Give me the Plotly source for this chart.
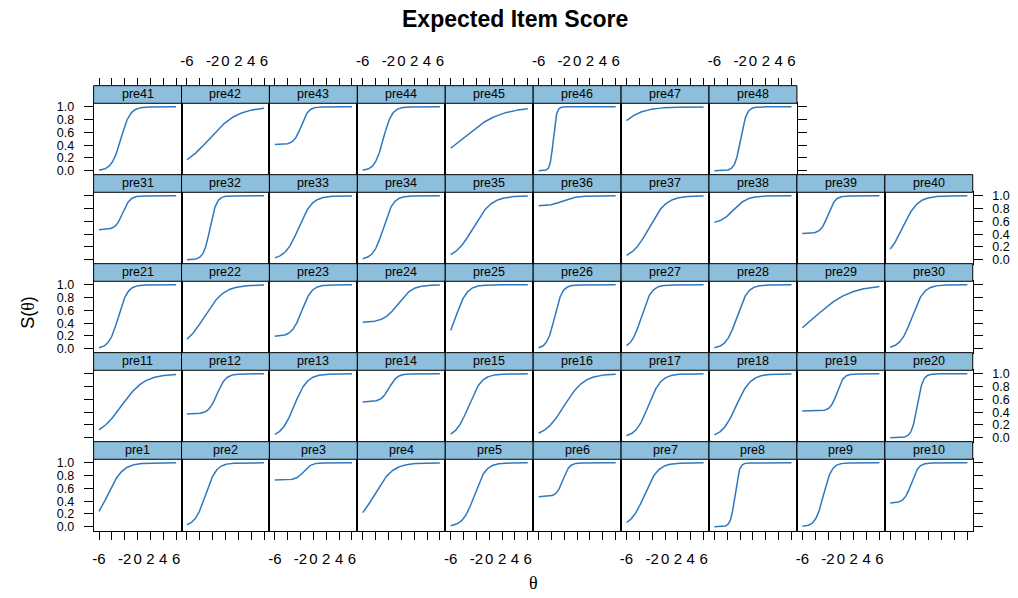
import numpy as np
import plotly.graph_objects as go

# ---- data: item parameters (3PL-style curves) ----
items = [f"pre{i}" for i in range(1, 49)]
slopes = [0.85, 1.2, 1.7, 0.70, 1.13, 2.0, 0.95, 3.0, 1.6, 1.8,
          0.56, 1.5, 0.98, 1.6, 1.0, 0.65, 1.02, 0.9, 2.0, 2.3,
          1.4, 0.65, 1.3, 0.9, 1.15, 1.7, 1.3, 1.2, 0.36, 1.1,
          1.8, 2.0, 0.95, 1.3, 0.7, 1.0, 0.75, 0.95, 1.8, 0.85,
          1.4, 0.45, 1.8, 1.5, 0.34, 4.0, 0.5, 2.2]
locations = [-4.65, -3.1, -1.5, -4.2, -2.3, -2.2, -3.2, -2.8, -2.7, -2.7,
             -2.5, -1.3, -3.0, -1.9, -3.2, -2.0, -2.6, -2.6, -0.6, -1.8,
             -3.0, -3.3, -1.8, -0.5, -5.2, -3.5, -3.7, -2.5, -4.0, -2.6,
             -2.3, -2.4, -2.3, -2.8, -2.5, -2.2, -2.5, -3.0, -2.0, -4.1,
             -2.6, -2.5, -1.9, -2.8, -4.2, -3.7, -8.6, -1.9]
lower = [0, 0, 0.73, 0, 0, 0.47, 0, 0, 0, 0.37,
         0, 0.37, 0, 0.56, 0, 0, 0, 0, 0.42, 0,
         0, 0, 0.19, 0.41, 0, 0, 0, 0, 0, 0,
         0.47, 0, 0, 0, 0, 0.84, 0, 0.56, 0.41, 0,
         0, 0, 0.41, 0, 0, 0, 0, 0]
theta = np.linspace(-6, 6, 241)
x_ticks = [-6, -4, -2, 0, 2, 4, 6]
x_tick_text = ["-6", "", "-2", "0", "2", "4", "6"]
y_ticks = [0, 0.2, 0.4, 0.6, 0.8, 1.0]
y_tick_text = ["0.0", "0.2", "0.4", "0.6", "0.8", "1.0"]

# ---- layout geometry (pixels, page coordinates) ----
W, H = 1018, 598
LEFT0, COLW = 92.7, 88.0
TOP0, ROWH, STRIPH = 83.5, 89.9, 17.8
NCOL, NROWS = 10, 5
XR = [-6.84, 6.84]
YR = [-0.062, 1.056]
STRIP_FILL = "#8DBEDC"
LINE_COL = "#2F78BE"
FONT = "Liberation Sans, Arial, sans-serif"


def px(x):
    return x / W


def py(y):
    return 1 - y / H


fig = go.Figure()
layout = dict(width=W, height=H, margin=dict(l=0, r=0, t=0, b=0),
              autosize=False, plot_bgcolor="white", paper_bgcolor="white",
              showlegend=False, font=dict(family=FONT, color="black"))
shapes, annotations = [], []

n_items = len(items)
top_axis_id = n_items
for k in range(n_items):
    n = k + 1
    row_b = k // NCOL           # row from bottom
    col = k % NCOL
    r_top = NROWS - 1 - row_b   # row from top
    strip_top = TOP0 + r_top * ROWH
    panel_top = strip_top + STRIPH
    panel_bot = strip_top + ROWH
    x0 = LEFT0 + col * COLW
    x1 = x0 + COLW
    last_col = (col == NCOL - 1) or (k == n_items - 1)

    a, b, c = slopes[k], locations[k], lower[k]
    s = c + (1 - c) / (1 + np.exp(-a * (theta - b)))
    xa = "x" if n == 1 else f"x{n}"
    ya = "y" if n == 1 else f"y{n}"
    fig.add_trace(go.Scatter(x=theta, y=s, mode="lines", xaxis=xa, yaxis=ya,
                             line=dict(color=LINE_COL, width=1.5),
                             hoverinfo="skip"))

    xkey = "xaxis" if n == 1 else f"xaxis{n}"
    ykey = "yaxis" if n == 1 else f"yaxis{n}"
    xax = dict(domain=[px(x0), px(x1)], anchor=ya, range=XR,
               showgrid=False, zeroline=False, showline=True, mirror=True,
               linecolor="black", linewidth=1, tickvals=x_ticks,
               ticktext=x_tick_text, tickfont=dict(size=15, color="black"),
               fixedrange=True)
    if row_b == 0:
        xax.update(side="bottom", ticks="outside", ticklen=8,
                   tickcolor="black", tickwidth=1,
                   showticklabels=(col % 2 == 0), ticklabelstandoff=6)
    else:
        xax.update(ticks="", showticklabels=False)
    yax = dict(domain=[py(panel_bot), py(panel_top)], anchor=xa, range=YR,
               showgrid=False, zeroline=False, showline=True, mirror=True,
               linecolor="black", linewidth=1, tickvals=y_ticks,
               ticktext=y_tick_text, tickfont=dict(size=12.5, color="black"),
               fixedrange=True)
    if col == 0:
        yax.update(side="left", ticks="outside", ticklen=9, tickcolor="black",
                   tickwidth=1, showticklabels=(row_b % 2 == 0),
                   ticklabelstandoff=7)
    elif last_col:
        yax.update(side="right", ticks="outside", ticklen=9, tickcolor="black",
                   tickwidth=1, showticklabels=(row_b % 2 == 1),
                   ticklabelstandoff=7)
    else:
        yax.update(ticks="", showticklabels=False)
    layout[xkey] = xax
    layout[ykey] = yax

    # top axis above the strip for the top panel of each column
    if r_top == 0:
        top_axis_id += 1
        tx = f"x{top_axis_id}"
        layout[f"xaxis{top_axis_id}"] = dict(
            overlaying=xa, anchor="free", position=py(strip_top), side="top",
            range=XR, showgrid=False, zeroline=False, showline=False,
            ticks="outside", ticklen=8, tickcolor="black", tickwidth=1,
            tickvals=x_ticks, ticktext=x_tick_text,
            tickfont=dict(size=15, color="black"),
            showticklabels=(col % 2 == 1), ticklabelstandoff=6,
            fixedrange=True)
        fig.add_trace(go.Scatter(x=[], y=[], xaxis=tx, yaxis=ya,
                                 mode="lines", hoverinfo="skip"))

    # strip
    shapes.append(dict(type="rect", xref="paper", yref="paper",
                       x0=px(x0), x1=px(x1), y0=py(panel_top), y1=py(strip_top),
                       fillcolor=STRIP_FILL, line=dict(color="black", width=1),
                       layer="above"))
    annotations.append(dict(text=items[k], xref="paper", yref="paper",
                            x=px((x0 + x1) / 2), y=py((strip_top + panel_top) / 2),
                            showarrow=False, xanchor="center", yanchor="middle",
                            font=dict(size=12.5, color="black", family=FONT)))

annotations.append(dict(text="<b>Expected Item Score</b>", xref="paper",
                        yref="paper", x=px(515), y=py(16), showarrow=False,
                        xanchor="center", yanchor="middle", borderpad=0,
                        font=dict(size=23, color="black", family=FONT)))
annotations.append(dict(text="S(<span style='font-family:Liberation Serif'>θ</span>)",
                        xref="paper", yref="paper", x=px(27), y=py(312),
                        showarrow=False, textangle=-90, xanchor="center",
                        yanchor="middle", font=dict(size=18, color="black")))
annotations.append(dict(text="θ", xref="paper", yref="paper", x=px(533),
                        y=py(586), showarrow=False, xanchor="center",
                        yanchor="middle", borderpad=0,
                        font=dict(size=18, color="black",
                                  family="Liberation Serif, Times New Roman, serif")))

layout["shapes"] = shapes
layout["annotations"] = annotations
fig.update_layout(**layout)
fig.write_html("out.html", config={"displayModeBar": False},
               post_script="document.body.style.margin='0px';")
